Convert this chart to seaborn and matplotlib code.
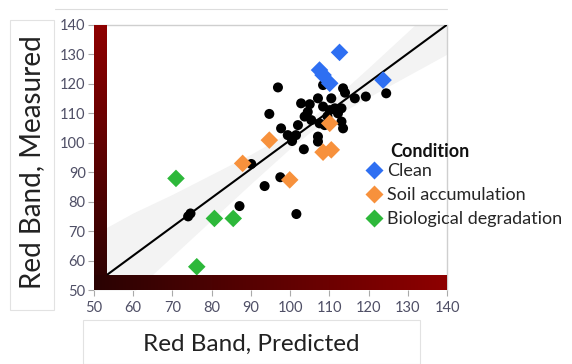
import numpy as np
import pandas as pd
import matplotlib
matplotlib.use("Agg")
import matplotlib.pyplot as plt
from matplotlib.colors import LinearSegmentedColormap
from matplotlib.patches import Rectangle
import seaborn as sns

sns.set_style("white")
plt.rcParams['font.family'] = ['Lato', 'DejaVu Sans']

# ---------------- data ----------------
other_x = [74.0, 74.6, 87.1, 93.5, 97.5, 101.6, 90.1, 96.9, 94.7, 97.7, 99.4, 100.5,
           101.5, 103.5, 107.1, 107.1, 102.0, 103.7, 105.4, 107.5, 108.8, 102.8, 105.0,
           107.1, 108.4, 110.5, 111.4, 113.1, 113.1, 113.5, 108.4, 113.5, 114.0, 116.5,
           119.3, 124.5, 112.2, 110.1, 109.5, 104.5]
other_y = [75.0, 76.0, 78.5, 85.3, 88.3, 75.8, 92.8, 118.8, 109.8, 104.9, 102.6, 100.6,
           102.6, 97.8, 102.1, 100.4, 106.0, 108.9, 107.7, 106.6, 106.0, 113.4, 113.1,
           115.1, 112.3, 115.1, 111.7, 111.7, 107.2, 104.9, 119.6, 118.5, 117.0, 115.1,
           115.7, 116.8, 110.0, 111.1, 109.0, 110.5]

cond_names = ["Clean", "Soil accumulation", "Biological degradation"]
clean_x = [112.6, 107.5, 108.4, 110.1, 123.7]
clean_y = [130.7, 124.7, 123.0, 120.2, 121.3]
soil_x = [94.7, 87.9, 99.9, 110.1, 108.4, 110.5]
soil_y = [100.9, 93.0, 87.4, 106.6, 96.8, 97.6]
bio_x = [70.9, 80.7, 85.5, 76.2]
bio_y = [87.9, 74.3, 74.3, 57.9]
cond_colors = ["#2E6FF2", "#F7913C", "#2DB83A"]

fit_x = [50, 60, 70, 80, 90, 100, 105, 110, 120, 130, 140]
fit_y = [51.9, 61.7, 71.5, 81.3, 91.1, 100.9, 105.8, 110.7, 120.5, 130.3, 140.1]
band_lo = [36.9, 49.2, 61.5, 73.8, 86.1, 98.1, 103.5, 107.9, 115.5, 122.8, 130.1]
band_hi = [68.9, 76.2, 82.5, 89.3, 96.1, 103.7, 108.1, 113.5, 125.5, 137.8, 150.1]

ticks = [50, 60, 70, 80, 90, 100, 110, 120, 130, 140]

cond_df = pd.DataFrame({
    "x": clean_x + soil_x + bio_x,
    "y": clean_y + soil_y + bio_y,
    "Condition": [cond_names[0]] * len(clean_x) + [cond_names[1]] * len(soil_x)
                 + [cond_names[2]] * len(bio_x),
})
other_df = pd.DataFrame({"x": other_x, "y": other_y})
fit_df = pd.DataFrame({"x": fit_x, "y": fit_y, "lo": band_lo, "hi": band_hi})

# ---------------- figure ----------------
fig = plt.figure(figsize=(5.72, 3.64), dpi=100)
ax = fig.add_axes([94 / 572, 1 - 290 / 364, 353 / 572, 265 / 364])
ax.set_xlim(50, 140)
ax.set_ylim(50, 140)

# confidence band and fit line
ax.fill_between(fit_df["x"], fit_df["lo"], fit_df["hi"], color="#f3f3f3", lw=0, zorder=1)
sns.lineplot(data=fit_df, x="x", y="y", color="black", lw=1.5, ax=ax, zorder=3)

# gradient axis bars
cmap = LinearSegmentedColormap.from_list("rb", ["#2a0303", "#8e0000"])
grad = np.linspace(0, 1, 256)
ax.imshow(grad.reshape(-1, 1), extent=[50, 53.1, 50, 140], origin="lower",
          cmap=cmap, aspect="auto", zorder=5)
ax.imshow(grad.reshape(1, -1), extent=[50, 140, 50, 54.8], origin="lower",
          cmap=cmap, aspect="auto", zorder=5)
ax.set_xlim(50, 140)
ax.set_ylim(50, 140)

sns.scatterplot(data=other_df, x="x", y="y", color="black", s=52, edgecolor="none",
                ax=ax, zorder=4, legend=False)
sns.scatterplot(data=cond_df, x="x", y="y", hue="Condition", hue_order=cond_names,
                palette=cond_colors, marker="D", s=80, edgecolor="none", ax=ax, zorder=4)

ax.set_xticks(ticks)
ax.set_yticks(ticks)
ax.tick_params(axis="both", direction="out", length=4, width=0.8, color="#aaaaaa",
               labelsize=10.5, labelcolor="#4f4f66", bottom=True, left=True)
ax.tick_params(axis="x", pad=4)
ax.tick_params(axis="y", pad=2)
ax.set_xlabel("")
ax.set_ylabel("")
for s in ["left", "bottom"]:
    ax.spines[s].set_visible(False)
for s in ["top", "right"]:
    ax.spines[s].set_color("#cfcfcf")
    ax.spines[s].set_linewidth(1.0)

# legend
handles, labels = ax.get_legend_handles_labels()
leg = ax.legend(handles, labels, loc="upper left", bbox_to_anchor=(364 / 572, 1 - 163 / 364),
                bbox_transform=fig.transFigure, frameon=False, fontsize=13,
                handletextpad=0.2, labelspacing=0.45, borderaxespad=0, handlelength=1.1,
                borderpad=0)
fig.text(390 / 572, 1 - 151 / 364, "Condition", fontsize=13, fontweight="bold",
         ha="left", va="center", color="#111111")

# axis titles in light boxes
fig.patches.append(Rectangle((10 / 572, 1 - 310 / 364), 44 / 572, 290 / 364,
                             transform=fig.transFigure, fill=False, ec="#e2e2e2", lw=0.8))
fig.patches.append(Rectangle((83 / 572, 0), 337 / 572, 1 - 320 / 364,
                             transform=fig.transFigure, fill=False, ec="#e2e2e2", lw=0.8))
fig.lines.append(plt.Line2D([55 / 572, 447 / 572], [1 - 9 / 364, 1 - 9 / 364],
                            transform=fig.transFigure, color="#dddddd", lw=0.8))
fig.text(32 / 572, 1 - 162 / 364, "Red Band, Measured", rotation=90, fontsize=20,
         ha="center", va="center", color="#222222")
fig.text(251 / 572, 1 - 344 / 364, "Red Band, Predicted", fontsize=17.5,
         ha="center", va="center", color="#222222")

fig.savefig("out.png", dpi=100)
